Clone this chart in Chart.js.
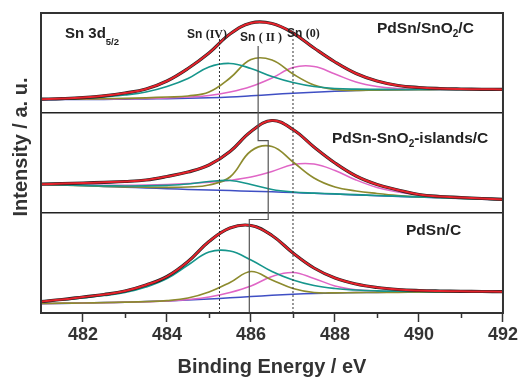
<!DOCTYPE html>
<html>
<head>
<meta charset="utf-8">
<script src="https://cdn.jsdelivr.net/npm/chart.js@4"></script>
<style>
  body { margin: 0; background: #fff; }
  canvas { display: block; }
</style>
</head>
<body>
<canvas id="xpsChart" width="520" height="379"></canvas>
<script>
// Sn 3d5/2 XPS fits, three samples stacked (top to bottom)
const energy = [481, 481.5, 482, 482.5, 483, 483.5, 484, 484.5, 485, 485.5, 486, 486.5,
                487, 487.5, 488, 488.5, 489, 489.5, 490, 490.5, 491, 491.5, 492];
const xTicks = [482, 484, 486, 488, 490, 492];
const xMinorTicks = [483, 485, 487, 489, 491];

// PdSn/SnO2/C
const topFit   = [0.138, 0.144, 0.154, 0.172, 0.20, 0.24, 0.32, 0.445, 0.60, 0.79, 0.90, 0.895, 0.80, 0.65, 0.51, 0.395, 0.32, 0.275, 0.255, 0.245, 0.24, 0.237, 0.236];
const topSnIV  = [0.138, 0.142, 0.148, 0.162, 0.18, 0.21, 0.265, 0.345, 0.46, 0.495, 0.445, 0.365, 0.305, 0.265, 0.245, 0.238, 0.236, 0.235, 0.235, 0.235, 0.235, 0.235, 0.235];
const topSnII  = [0.137, 0.138, 0.14, 0.143, 0.147, 0.152, 0.16, 0.17, 0.21, 0.35, 0.535, 0.53, 0.39, 0.28, 0.235, 0.226, 0.229, 0.232, 0.234, 0.235, 0.235, 0.235, 0.235];
const topSn0   = [0.136, 0.137, 0.138, 0.14, 0.142, 0.145, 0.15, 0.16, 0.175, 0.21, 0.265, 0.35, 0.455, 0.465, 0.39, 0.31, 0.265, 0.245, 0.237, 0.235, 0.235, 0.235, 0.235];
const topBase  = [0.133, 0.134, 0.135, 0.136, 0.138, 0.14, 0.143, 0.147, 0.152, 0.16, 0.172, 0.185, 0.198, 0.208, 0.217, 0.224, 0.229, 0.232, 0.234, 0.235, 0.235, 0.235, 0.235];

// PdSn-SnO2-islands/C
const midFit   = [0.288, 0.294, 0.30, 0.307, 0.315, 0.33, 0.365, 0.41, 0.48, 0.615, 0.815, 0.925, 0.835, 0.66, 0.50, 0.37, 0.285, 0.23, 0.185, 0.165, 0.155, 0.145, 0.136];
const midSnIV  = [0.288, 0.282, 0.276, 0.272, 0.27, 0.271, 0.277, 0.29, 0.315, 0.325, 0.285, 0.235, 0.21, 0.199, 0.191, 0.183, 0.175, 0.168, 0.161, 0.154, 0.147, 0.140, 0.133];
const midSnII  = [0.288, 0.28, 0.273, 0.267, 0.262, 0.258, 0.256, 0.26, 0.28, 0.36, 0.62, 0.665, 0.51, 0.35, 0.26, 0.22, 0.195, 0.175, 0.162, 0.155, 0.147, 0.14, 0.132];
const midSn0   = [0.288, 0.284, 0.28, 0.278, 0.277, 0.28, 0.286, 0.295, 0.307, 0.327, 0.36, 0.415, 0.485, 0.49, 0.425, 0.33, 0.255, 0.21, 0.18, 0.16, 0.148, 0.14, 0.132];
const midBase  = [0.29, 0.282, 0.274, 0.266, 0.258, 0.25, 0.243, 0.236, 0.23, 0.224, 0.218, 0.212, 0.205, 0.197, 0.189, 0.181, 0.173, 0.166, 0.159, 0.152, 0.145, 0.138, 0.131];

// PdSn/C
const botFit   = [0.115, 0.135, 0.16, 0.185, 0.22, 0.28, 0.365, 0.515, 0.715, 0.85, 0.875, 0.775, 0.60, 0.45, 0.35, 0.29, 0.255, 0.235, 0.225, 0.22, 0.217, 0.215, 0.213];
const botSnIV  = [0.115, 0.13, 0.152, 0.175, 0.205, 0.26, 0.345, 0.48, 0.61, 0.62, 0.53, 0.415, 0.33, 0.275, 0.245, 0.23, 0.222, 0.218, 0.215, 0.214, 0.213, 0.213, 0.212];
const botSnII  = [0.095, 0.098, 0.10, 0.104, 0.108, 0.114, 0.124, 0.15, 0.21, 0.305, 0.415, 0.33, 0.245, 0.205, 0.201, 0.204, 0.206, 0.207, 0.208, 0.208, 0.209, 0.209, 0.21];
const botSn0   = [0.095, 0.097, 0.10, 0.103, 0.107, 0.112, 0.12, 0.135, 0.16, 0.205, 0.27, 0.365, 0.405, 0.345, 0.27, 0.232, 0.22, 0.215, 0.212, 0.211, 0.21, 0.21, 0.21];
const botBase  = [0.093, 0.096, 0.10, 0.104, 0.108, 0.114, 0.121, 0.13, 0.14, 0.152, 0.165, 0.177, 0.187, 0.195, 0.20, 0.204, 0.206, 0.207, 0.208, 0.208, 0.209, 0.209, 0.21];

// reference positions (eV) and the stepped Sn(II) guide
const snIVLine = 485.25;
const sn0Line = 487.0;
const guideTop = 2.74;
const snIIStepX = [486.17, 486.17, 486.41, 486.41, 485.96, 485.96];
const snIIStepY = [2.67, 1.723, 1.723, 0.935, 0.935, 0];

const COLORS = {
    fit: '#e5222b',
    data: '#222222',
    snIV: '#16968c',
    snII: '#8d8b2e',
    sn0: '#e066c6',
    base: '#3f4fc4'
};

function curve(values, offset, color, width, order) {
    return {
        data: energy.map((x, i) => ({ x: x, y: values[i] + offset })),
        borderColor: color,
        borderWidth: width,
        pointRadius: 0,
        tension: 0.4,
        fill: false,
        order: order
    };
}

const panels = [
    { offset: 2, fit: topFit, snIV: topSnIV, snII: topSnII, sn0: topSn0, base: topBase },
    { offset: 1, fit: midFit, snIV: midSnIV, snII: midSnII, sn0: midSn0, base: midBase },
    { offset: 0, fit: botFit, snIV: botSnIV, snII: botSnII, sn0: botSn0, base: botBase }
];

const datasets = [];
panels.forEach(p => {
    datasets.push(curve(p.base, p.offset, COLORS.base, 1.5, 6));
    datasets.push(curve(p.snIV, p.offset, COLORS.snIV, 1.7, 5));
    datasets.push(curve(p.snII, p.offset, COLORS.snII, 1.7, 5));
    datasets.push(curve(p.sn0, p.offset, COLORS.sn0, 1.5, 5));
    datasets.push(curve(p.fit, p.offset, COLORS.data, 3.2, 3));
    datasets.push(curve(p.fit, p.offset, COLORS.fit, 2, 2));
});

[snIVLine, sn0Line].forEach(x => {
    datasets.push({
        data: [{ x: x, y: guideTop }, { x: x, y: 0 }],
        borderColor: '#333',
        borderWidth: 1,
        borderDash: [2, 2],
        pointRadius: 0,
        tension: 0,
        order: 1
    });
});
datasets.push({
    data: snIIStepX.map((x, i) => ({ x: x, y: snIIStepY[i] })),
    borderColor: '#555',
    borderWidth: 1.2,
    pointRadius: 0,
    tension: 0,
    order: 1
});

// frame, minor ticks and in-plot labels
const decorations = {
    id: 'decorations',
    afterDraw(chart) {
        const c = chart.ctx;
        const a = chart.chartArea;
        const xs = chart.scales.x;
        c.save();
        c.strokeStyle = '#333';
        c.lineWidth = 2;
        c.strokeRect(a.left, a.top, a.right - a.left, a.bottom - a.top);

        c.lineWidth = 1.5;
        xMinorTicks.forEach(v => {
            const px = Math.round(xs.getPixelForValue(v)) + 0.5;
            c.beginPath();
            c.moveTo(px, a.bottom);
            c.lineTo(px, a.bottom + 5);
            c.stroke();
        });

        c.fillStyle = '#222';
        c.textBaseline = 'alphabetic';
        const runs = (x, y, parts) => {
            parts.forEach(([t, f, dy]) => {
                c.font = f;
                c.fillText(t, x, y + (dy || 0));
                x += c.measureText(t).width;
            });
        };
        const sans = s => 'bold ' + s + 'px "Liberation Sans", Arial, sans-serif';
        const serif = s => 'bold ' + s + 'px "Liberation Serif", serif';

        runs(65, 38, [['Sn 3d', sans(15)], ['5/2', sans(9.5), 7]]);
        runs(187, 38, [['Sn ', sans(12)], ['(IV)', serif(12)]]);
        runs(240, 41, [['Sn ', sans(12)], ['( II )', serif(12)]]);
        runs(287, 37, [['Sn ', sans(12)], ['(0)', serif(12)]]);

        runs(377, 33, [['PdSn/SnO', sans(15.5)], ['2', sans(10), 4], ['/C', sans(15.5)]]);
        runs(332, 143, [['PdSn-SnO', sans(15.5)], ['2', sans(10), 4], ['-islands/C', sans(15.5)]]);
        runs(406, 235, [['PdSn/C', sans(15.5)]]);

        c.translate(21, 147);
        c.rotate(-Math.PI / 2);
        c.textAlign = 'center';
        c.textBaseline = 'middle';
        c.font = sans(20);
        c.fillStyle = '#333';
        c.fillText('Intensity / a. u.', 0, 0);
        c.restore();
    }
};

new Chart(document.getElementById('xpsChart').getContext('2d'), {
    type: 'line',
    data: { datasets: datasets },
    plugins: [decorations],
    options: {
        responsive: false,
        animation: false,
        events: [],
        layout: { padding: { left: 41, right: 17, top: 13, bottom: 0 } },
        plugins: {
            legend: { display: false },
            tooltip: { enabled: false }
        },
        scales: {
            x: {
                type: 'linear',
                min: 481,
                max: 492,
                afterBuildTicks: s => { s.ticks = xTicks.map(v => ({ value: v })); },
                afterFit: s => { s.height = 66; },
                border: { display: false },
                grid: { drawOnChartArea: false, tickLength: 9, tickColor: '#333', tickWidth: 1.5 },
                ticks: {
                    padding: 2,
                    color: '#333',
                    maxRotation: 0,
                    autoSkip: false,
                    font: { family: '"Liberation Sans", Arial, sans-serif', size: 18, weight: 'bold' }
                },
                title: {
                    display: true,
                    text: 'Binding Energy / eV',
                    color: '#333',
                    padding: 0,
                    font: { family: '"Liberation Sans", Arial, sans-serif', size: 20, weight: 'bold' }
                }
            },
            y: {
                min: 0,
                max: 3,
                afterBuildTicks: s => { s.ticks = [1, 2].map(v => ({ value: v })); },
                border: { display: false },
                ticks: { display: false },
                grid: { color: '#222', lineWidth: 1.5, drawTicks: false }
            }
        }
    }
});
</script>
</body>
</html>
